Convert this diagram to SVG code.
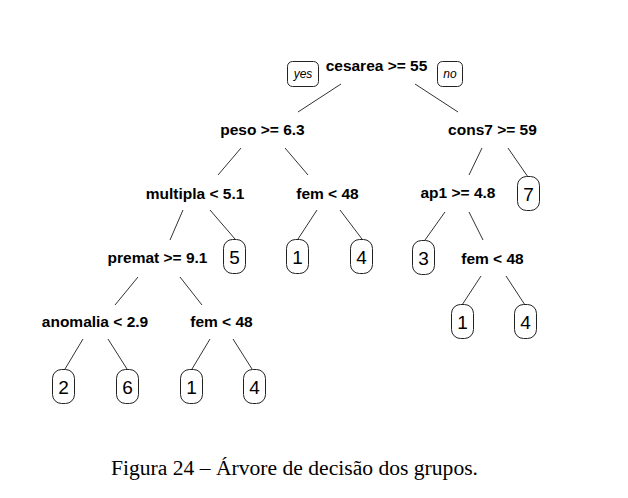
<svg xmlns="http://www.w3.org/2000/svg" width="628" height="498" viewBox="0 0 628 498">
<style>
.lbl{font-family:"Liberation Sans",Arial,sans-serif;font-weight:bold;font-size:15.5px;fill:#000;text-anchor:middle}
.leaf rect{fill:#fff;stroke:#222;stroke-width:1}
.leaf text{font-family:"Liberation Sans",Arial,sans-serif;font-size:19px;fill:#000;text-anchor:middle}
.yn rect{fill:#fff;stroke:#222;stroke-width:1}
.yn text{font-family:"Liberation Sans",Arial,sans-serif;font-style:italic;font-size:12px;fill:#000;text-anchor:middle}
.cap{font-family:"Liberation Serif","Times New Roman",serif;font-size:21.6px;fill:#000;text-anchor:middle}
#connectors line{stroke:#333;stroke-width:1}
</style>
<rect width="628" height="498" fill="#fff"/>
<g id="connectors">
<line x1="341" y1="84" x2="298" y2="112"/>
<line x1="415" y1="84" x2="458" y2="112"/>
<line x1="241" y1="148" x2="218" y2="175"/>
<line x1="285" y1="148" x2="308" y2="175"/>
<line x1="482" y1="148" x2="469" y2="175"/>
<line x1="508" y1="148" x2="528" y2="177"/>
<line x1="183" y1="210" x2="170" y2="240"/>
<line x1="210" y1="210" x2="235" y2="239"/>
<line x1="317" y1="210" x2="298" y2="239"/>
<line x1="340" y1="210" x2="362" y2="239"/>
<line x1="445" y1="212" x2="425" y2="240"/>
<line x1="469" y1="212" x2="483" y2="240"/>
<line x1="138" y1="277" x2="115" y2="305"/>
<line x1="180" y1="277" x2="202" y2="305"/>
<line x1="481" y1="276" x2="462" y2="305"/>
<line x1="506" y1="276" x2="525" y2="305"/>
<line x1="83" y1="339" x2="65" y2="369"/>
<line x1="108" y1="339" x2="127" y2="369"/>
<line x1="210" y1="339" x2="192" y2="369"/>
<line x1="233" y1="339" x2="252" y2="369"/>
</g>
<g id="root">
<text class="lbl" x="376.5" y="71">cesarea &gt;= 55</text>
<g class="yn"><rect x="287.5" y="61.5" width="31" height="25" rx="5"/><text x="303" y="78">yes</text></g>
<g class="yn"><rect x="437.5" y="61.5" width="25" height="25" rx="5"/><text x="450" y="78">no</text></g>
</g>
<g id="n_peso"><text class="lbl" x="262.5" y="135">peso &gt;= 6.3</text></g>
<g id="n_cons7"><text class="lbl" x="492.5" y="135">cons7 &gt;= 59</text></g>
<g id="n_multipla"><text class="lbl" x="195" y="199">multipla &lt; 5.1</text></g>
<g id="n_fem_a"><text class="lbl" x="327.5" y="199">fem &lt; 48</text></g>
<g id="n_ap1"><text class="lbl" x="458" y="198">ap1 &gt;= 4.8</text></g>
<g id="n_premat"><text class="lbl" x="157.5" y="263">premat &gt;= 9.1</text></g>
<g id="n_fem_b"><text class="lbl" x="492.5" y="264">fem &lt; 48</text></g>
<g id="n_anomalia"><text class="lbl" x="95" y="327">anomalia &lt; 2.9</text></g>
<g id="n_fem_c"><text class="lbl" x="221.5" y="327">fem &lt; 48</text></g>
<g id="leaf_5" class="leaf"><rect x="223.5" y="239.5" width="22" height="34" rx="9"/><text x="234.5" y="264">5</text></g>
<g id="leaf_1a" class="leaf"><rect x="286.5" y="239.5" width="22" height="34" rx="9"/><text x="297.5" y="264">1</text></g>
<g id="leaf_4a" class="leaf"><rect x="350.5" y="239.5" width="22" height="34" rx="9"/><text x="361.5" y="264">4</text></g>
<g id="leaf_3" class="leaf"><rect x="412.5" y="240.5" width="22" height="34" rx="9"/><text x="423.5" y="265">3</text></g>
<g id="leaf_7" class="leaf"><rect x="517.5" y="176.5" width="22" height="34" rx="9"/><text x="528.5" y="201">7</text></g>
<g id="leaf_1b" class="leaf"><rect x="451.5" y="304.5" width="22" height="34" rx="9"/><text x="462.5" y="329">1</text></g>
<g id="leaf_4b" class="leaf"><rect x="514.5" y="304.5" width="22" height="34" rx="9"/><text x="525.5" y="329">4</text></g>
<g id="leaf_2" class="leaf"><rect x="52.5" y="369.5" width="22" height="34" rx="9"/><text x="63.5" y="394">2</text></g>
<g id="leaf_6" class="leaf"><rect x="116.5" y="369.5" width="22" height="34" rx="9"/><text x="127.5" y="394">6</text></g>
<g id="leaf_1c" class="leaf"><rect x="180.5" y="369.5" width="22" height="34" rx="9"/><text x="191.5" y="394">1</text></g>
<g id="leaf_4c" class="leaf"><rect x="243.5" y="369.5" width="22" height="34" rx="9"/><text x="254.5" y="394">4</text></g>
<text class="cap" x="294.5" y="475">Figura 24 – Árvore de decisão dos grupos.</text>
</svg>
